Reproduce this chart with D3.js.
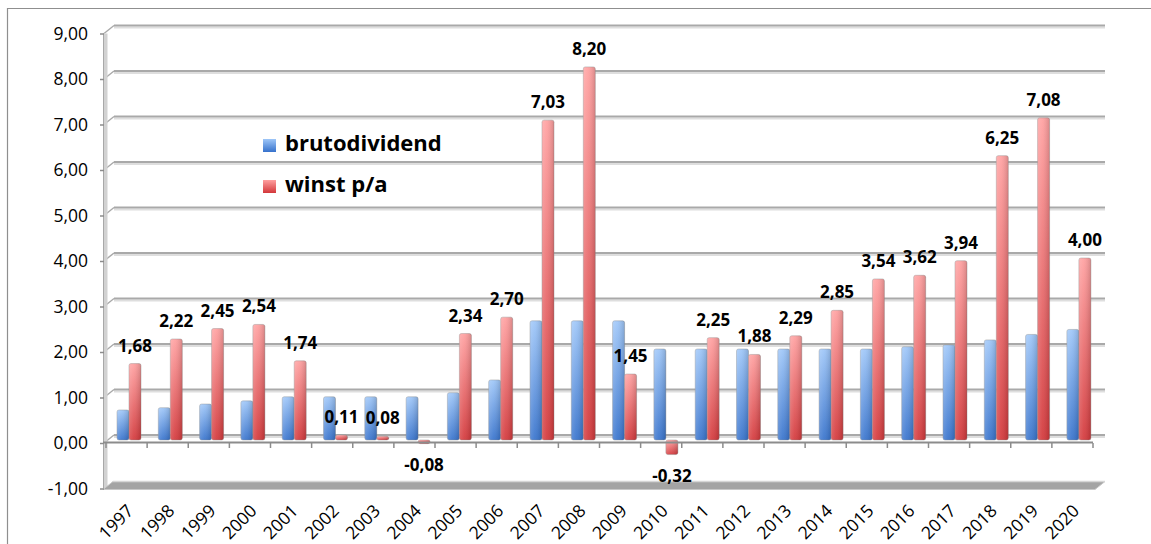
<!DOCTYPE html>
<html>
<head>
<meta charset="utf-8">
<script src="https://cdn.jsdelivr.net/npm/d3@7"></script>
<style>
  body { margin: 0; background: #fff; }
  text { font-family: "Open Sans", sans-serif; }
</style>
</head>
<body>
<svg id="chart" width="1151" height="544"></svg>
<script>
// data
var years = ["1997","1998","1999","2000","2001","2002","2003","2004","2005","2006","2007","2008",
             "2009","2010","2011","2012","2013","2014","2015","2016","2017","2018","2019","2020"]
var brutodividend = [0.66,0.71,0.79,0.86,0.95,0.95,0.95,0.95,1.04,1.32,2.62,2.62,
                     2.62,2.00,2.00,2.00,2.00,2.00,2.00,2.05,2.09,2.20,2.32,2.43]
var winst = [1.68,2.22,2.45,2.54,1.74,0.11,0.08,-0.08,2.34,2.70,7.03,8.20,
             1.45,-0.32,2.25,1.88,2.29,2.85,3.54,3.62,3.94,6.25,7.08,4.00]
var yTicks = [-1,0,1,2,3,4,5,6,7,8,9]
var seriesNames = ["brutodividend", "winst p/a"]

var svg = d3.select("#chart")
var fmt = function(v){ return v.toFixed(2).replace(".", ",") }

// 3d depth offset of the back wall
var dx = 10, dy = -8

var y = d3.scaleLinear().domain([-1, 9]).range([488.5, 33.5])
var xAxisScale = d3.scaleBand().domain(years).range([106, 1093])
var xBar = d3.scaleBand().domain(years).range([106, 106 + 24 * 41.3])
var barW = 12

var defs = svg.append("defs")
function grad(id, c0, c1) {
    var g = defs.append("linearGradient").attr("id", id)
	.attr("x1", 0).attr("y1", 0).attr("x2", 0).attr("y2", 1)
    g.append("stop").attr("offset", "0%").attr("stop-color", c0)
    g.append("stop").attr("offset", "100%").attr("stop-color", c1)
}
grad("gBlue", "#9ec6f8", "#3672cc")
grad("gRed", "#ffa0a0", "#d3373a")
var hl = defs.append("linearGradient").attr("id", "gShine")
    .attr("x1", 0).attr("y1", 0).attr("x2", 1).attr("y2", 0)
hl.append("stop").attr("offset", "0%").attr("stop-color", "#fff").attr("stop-opacity", 0.2)
hl.append("stop").attr("offset", "40%").attr("stop-color", "#fff").attr("stop-opacity", 0.08)
hl.append("stop").attr("offset", "100%").attr("stop-color", "#000").attr("stop-opacity", 0.15)

// outer frame
svg.append("path")
    .attr("d", "M7.5,560 L7.5,8.5 L1160,8.5")
    .attr("fill", "none").attr("stroke", "#8f8f8f").attr("stroke-width", 1.2)

// back wall gridlines
var gridTicks = yTicks.filter(function(d){ return d > -1 })
svg.append("g").selectAll("line.shadow")
    .data(gridTicks).enter().append("line")
    .attr("x1", 104 + dx).attr("x2", 1105)
    .attr("y1", function(d){ return y(d) + dy + 2 })
    .attr("y2", function(d){ return y(d) + dy + 2 })
    .attr("stroke", "#dedede").attr("stroke-width", 2)
svg.append("g").selectAll("line.grid")
    .data(gridTicks).enter().append("line")
    .attr("x1", 104 + dx).attr("x2", 1105)
    .attr("y1", function(d){ return y(d) + dy })
    .attr("y2", function(d){ return y(d) + dy })
    .attr("stroke", "#a9a9a9").attr("stroke-width", 2)
svg.append("g").selectAll("line.diag")
    .data(gridTicks).enter().append("line")
    .attr("x1", 104).attr("x2", 104 + dx)
    .attr("y1", function(d){ return y(d) })
    .attr("y2", function(d){ return y(d) + dy })
    .attr("stroke", "#a9a9a9").attr("stroke-width", 1.5)

// side wall
svg.append("line")
    .attr("x1", 105.5).attr("x2", 105.5).attr("y1", y(9)).attr("y2", y(-1))
    .attr("stroke", "#d2d2d2").attr("stroke-width", 4)
svg.append("line")
    .attr("x1", 103.5).attr("x2", 103.5).attr("y1", y(9)).attr("y2", y(-1))
    .attr("stroke", "#a8a8a8").attr("stroke-width", 1)

// floor slab at -1
var fy = y(-1)
svg.append("path")
    .attr("d", "M" + (103) + "," + (fy + 1) + " L" + (103 + dx) + "," + (fy + dy + 1) +
	  " L1105," + (fy + dy + 1) + " L1095," + (fy + 1) + " Z")
    .attr("fill", "#a4a4a4").attr("stroke", "#c8c8c8").attr("stroke-width", 1)
svg.append("line")
    .attr("x1", 103 + dx).attr("x2", 1105).attr("y1", fy + dy + 1).attr("y2", fy + dy + 1)
    .attr("stroke", "#d6d6d6").attr("stroke-width", 1.5)

// y axis
var yAxis = svg.append("g")
    .attr("transform", "translate(104,0)")
    .call(d3.axisLeft(y).tickValues(yTicks).tickSize(4).tickPadding(12).tickFormat(fmt))
yAxis.select(".domain").remove()
yAxis.selectAll(".tick line").attr("stroke", "#8c8c8c").attr("stroke-width", 1.5)
yAxis.selectAll(".tick text")
    .attr("font-family", "'Open Sans', sans-serif")
    .attr("font-size", "17.5px").attr("fill", "#000")

// bars
function drawBars(values, xOff, fill, cls) {
    var g = svg.append("g").attr("class", cls)
    var data = values.map(function(v, i){ return [years[i], v] })
    g.selectAll("rect.bar").data(data).enter().append("rect")
	.attr("x", function(d){ return xBar(d[0]) + xOff })
	.attr("y", function(d){ return Math.min(y(d[1]), y(0)) - 3 })
	.attr("width", barW)
	.attr("height", function(d){ return Math.max(Math.abs(y(d[1]) - y(0)), 2) })
	.attr("rx", 2)
	.attr("fill", fill)
	.attr("stroke", "#8a8a8a").attr("stroke-opacity", 0.5).attr("stroke-width", 0.8)
    g.selectAll("rect.shine").data(data).enter().append("rect")
	.attr("x", function(d){ return xBar(d[0]) + xOff })
	.attr("y", function(d){ return Math.min(y(d[1]), y(0)) - 3 })
	.attr("width", barW)
	.attr("height", function(d){ return Math.max(Math.abs(y(d[1]) - y(0)), 2) })
	.attr("rx", 2)
	.attr("fill", "url(#gShine)")
}
drawBars(brutodividend, 11, "url(#gBlue)", "blue")
drawBars(winst, 11 + barW, "url(#gRed)", "red")

// front zero axis with ticks between categories
var bounds = years.map(function(d){ return xAxisScale(d) }).concat([xAxisScale.range()[1]])
svg.append("line")
    .attr("x1", 103).attr("x2", 1093).attr("y1", y(0) - 0.5).attr("y2", y(0) - 0.5)
    .attr("stroke", "#8c8c8c").attr("stroke-width", 2)
svg.append("g").selectAll("line").data(bounds).enter().append("line")
    .attr("x1", function(d){ return d }).attr("x2", function(d){ return d })
    .attr("y1", y(0)).attr("y2", y(0) + 5)
    .attr("stroke", "#8c8c8c").attr("stroke-width", 1.5)

// x labels
svg.append("g").selectAll("text").data(years).enter().append("text")
    .attr("transform", function(d){
	return "translate(" + (xAxisScale(d) + xAxisScale.bandwidth() / 2 + 8) + ",512) rotate(-45)"
    })
    .attr("text-anchor", "end")
    .attr("font-size", "17.5px").attr("fill", "#000")
    .text(function(d){ return d })

// data labels on winst
svg.append("g").selectAll("text").data(winst).enter().append("text")
    .attr("x", function(d, i){ return xBar(years[i]) + 11 + barW * 1.5 })
    .attr("y", function(d){ return d >= 0 ? y(d) - 3 - 12 : y(d) - 3 + 27 })
    .attr("text-anchor", "middle")
    .attr("font-size", "17px").attr("font-weight", "bold").attr("fill", "#000")
    .text(function(d){ return fmt(d) })

// legend
var legend = svg.append("g").attr("transform", "translate(263,139)")
var lg = legend.selectAll("g").data(seriesNames).enter().append("g")
    .attr("transform", function(d, i){ return "translate(0," + (i * 41) + ")" })
lg.append("rect").attr("width", 13).attr("height", 13)
    .attr("fill", function(d, i){ return i == 0 ? "url(#gBlue)" : "url(#gRed)" })
lg.append("text").attr("x", 22).attr("y", 12)
    .attr("font-size", "22px").attr("font-weight", "bold").attr("fill", "#000")
    .text(function(d){ return d })
</script>
</body>
</html>
